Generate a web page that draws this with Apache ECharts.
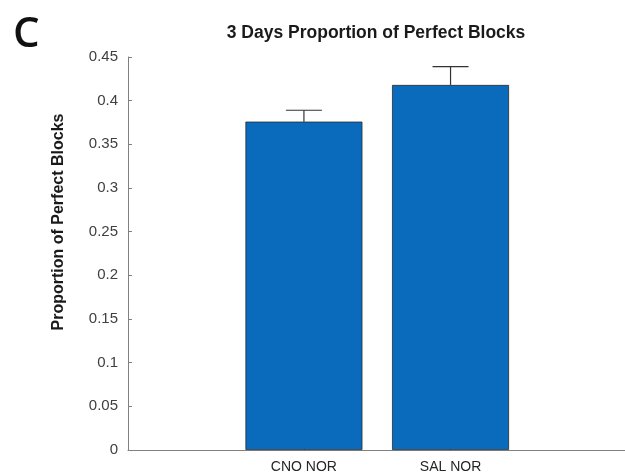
<!DOCTYPE html>
<html>
<head>
<meta charset="utf-8">
<script src="https://cdn.jsdelivr.net/npm/echarts@6/dist/echarts.min.js"></script>
<style>html,body{margin:0;padding:0;background:#fff}#c{width:625px;height:474px}</style>
</head>
<body>
<div id="c"></div>
<script>
var categories = ['CNO NOR', 'SAL NOR'];
var positions = [1, 2];
var means = [0.376, 0.418];
var errTops = [0.389, 0.439];
var yTicks = [0, 0.05, 0.1, 0.15, 0.2, 0.25, 0.3, 0.35, 0.4, 0.45];

var barData = positions.map(function (p, i) { return [p, means[i]]; });
var errData = positions.map(function (p, i) { return [p, means[i], errTops[i]]; });

var chart = echarts.init(document.getElementById('c'), null, {renderer: 'canvas'});
chart.setOption({
  animation: false,
  backgroundColor: '#ffffff',
  title: {
    text: '3 Days Proportion of Perfect Blocks',
    left: 371, top: 19, textAlign: 'center',
    textStyle: {fontFamily: 'Liberation Sans, Arial', fontWeight: 'bold', fontSize: 17.5, color: '#1a1a1a'}
  },
  graphic: [
    {type: 'text', left: 13, top: 14, style: {text: 'C', font: '600 42px "Open Sans", "Liberation Sans", sans-serif', fill: '#111'}},
    {type: 'text', x: 59, y: 222, rotation: Math.PI / 2,
      style: {text: 'Proportion of Perfect Blocks', font: 'bold 16px "Liberation Sans", Arial', fill: '#1a1a1a', align: 'center', verticalAlign: 'middle'}}
  ],
  grid: {left: 128, right: 0, top: 57, bottom: 23},
  xAxis: {
    type: 'value', min: -0.2, max: 3.19,
    splitLine: {show: false},
    axisLine: {show: true, onZero: false, lineStyle: {color: '#808080', width: 1}},
    axisTick: {show: true, inside: true, length: 4, customValues: positions, lineStyle: {color: '#808080'}},
    axisLabel: {
      show: true, customValues: positions, margin: 10,
      fontFamily: 'Liberation Sans, Arial', fontSize: 14, color: '#262626',
      formatter: function (v) { var i = positions.indexOf(v); return i >= 0 ? categories[i] : ''; }
    }
  },
  yAxis: {
    type: 'value', min: 0, max: 0.45, interval: 0.05,
    splitLine: {show: false},
    axisLine: {show: true, onZero: false, lineStyle: {color: '#808080', width: 1}},
    axisTick: {show: true, inside: true, length: 4, lineStyle: {color: '#808080'}},
    axisLabel: {
      margin: 10, fontFamily: 'Liberation Sans, Arial', fontSize: 15, color: '#404040',
      formatter: function (v) {
        for (var i = 0; i < yTicks.length; i++) { if (Math.abs(yTicks[i] - v) < 1e-9) return String(yTicks[i]); }
        return '';
      }
    }
  },
  series: [
    {
      type: 'bar', data: barData, barWidth: 117,
      itemStyle: {color: '#0A6BBD', borderColor: '#2a2a2a', borderWidth: 0.8}
    },
    {
      type: 'custom', data: errData, z: 5,
      renderItem: function (params, api) {
        var x = api.value(0);
        var p0 = api.coord([x, api.value(1)]);
        var p1 = api.coord([x, api.value(2)]);
        var hw = 18;
        return {
          type: 'group',
          children: [
            {type: 'line', shape: {x1: p0[0], y1: p0[1], x2: p1[0], y2: p1[1]}, style: {stroke: '#333', lineWidth: 1.2}},
            {type: 'line', shape: {x1: p1[0] - hw, y1: p1[1], x2: p1[0] + hw, y2: p1[1]}, style: {stroke: '#333', lineWidth: 1.2}}
          ]
        };
      }
    }
  ]
});
</script>
</body>
</html>
